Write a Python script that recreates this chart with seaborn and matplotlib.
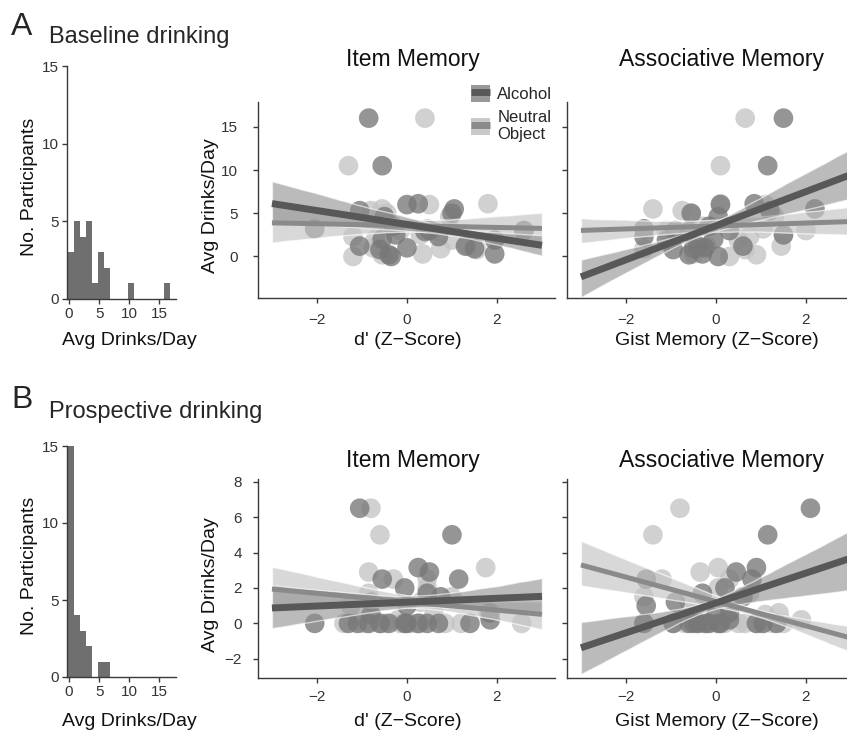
import numpy as np
import pandas as pd
import matplotlib
matplotlib.use("Agg")
import matplotlib.pyplot as plt
import seaborn as sns
from matplotlib.patches import Patch
from matplotlib.lines import Line2D

# ---------------- data ----------------
conditions = ["Alcohol", "Neutral Object"]
legend_labels = ["Alcohol", "Neutral\nObject"]
panel_titles = ["Item Memory", "Associative Memory"]
row_titles = ["Baseline drinking", "Prospective drinking"]
row_letters = ["A", "B"]
x_labels = ["d' (Z\u2212Score)", "Gist Memory (Z\u2212Score)"]

baseline_drinks = [16.0, 10.5, 6.1, 6.0, 5.5, 5.3, 5.0, 4.6, 3.5, 3.2, 3.0, 3.0, 2.9,
                   2.5, 2.3, 2.0, 1.9, 1.2, 1.2, 1.0, 0.9, 0.8, 0.3, 0.2, 0.0]
baseline_item_alcohol = [-0.85, -0.55, 0.25, 0.0, 1.05, -1.05, 1.0, -0.5, -0.3, -2.05,
                         2.6, 0.5, 0.4, -0.25, 0.7, -0.55, 1.95, -1.05, 1.3, 0.0,
                         1.5, -0.6, 1.95, -0.4, -0.35]
baseline_item_neutral = [0.4, -1.3, 1.8, 0.5, -0.55, -0.8, -0.45, 0.95, -0.4, 0.45,
                         2.6, -0.15, 0.6, 0.3, -1.2, -0.7, 1.0, -0.65, 1.35, -0.75,
                         0.75, 1.55, 0.35, -0.55, -1.2]
baseline_assoc_alcohol = [1.5, 1.15, 0.85, 0.1, 2.2, 1.2, -0.55, 0.05, -0.15, -1.6,
                          -0.9, 0.3, -0.6, 1.5, -1.6, -0.05, -1.1, 0.6, -0.4, -0.25,
                          -0.5, -0.95, -0.3, -0.6, 0.05]
baseline_assoc_neutral = [0.65, 0.1, 0.1, 1.1, -1.4, -0.75, -0.55, 1.3, -0.3, 1.05,
                          2.0, -1.1, -0.6, 1.5, 0.75, -0.95, 0.5, -0.2, 1.45, -0.35,
                          -1.6, 0.65, -0.5, 0.9, 0.3]

prospective_drinks = [6.5, 5.0, 3.15, 2.9, 2.5, 2.5, 2.0, 1.7, 1.5, 1.2, 1.0, 0.6, 0.5,
                      0.2, 0.0, 0.0, 0.0, 0.0, 0.0, 0.0, 0.0, 0.0, 0.0, 0.0, 0.0, 0.0]
prospective_item_alcohol = [-1.05, 1.0, 0.25, 0.5, -0.55, 1.15, -0.05, 0.45, 0.75, -0.8,
                            0.0, 1.85, -0.8, 1.85, -2.05, -1.3, -1.1, -0.85, -0.6, -0.4,
                            -0.05, 0.25, 0.45, 0.7, 0.0, 1.4]
prospective_item_neutral = [-0.8, -0.6, 1.75, -0.85, -0.3, 0.45, 0.45, -0.85, 1.0, 0.3,
                            -1.25, 1.8, 0.6, -0.2, 2.55, 0.25, -0.15, -1.0, -0.5, 0.1,
                            0.85, 1.2, -1.4, 0.3, -0.6, -0.9]
prospective_assoc_alcohol = [2.1, 1.15, 0.9, 0.45, -1.55, 0.8, 0.2, -0.3, 0.6, -0.9,
                             -1.55, 0.3, 0.0, 0.3, 0.05, -0.25, -0.95, 0.9, 1.35, -1.6,
                             -0.5, -0.4, 1.05, -0.15, -0.6, 0.1]
prospective_assoc_neutral = [-0.8, -1.4, 0.05, -0.35, -1.2, 0.3, 0.05, 0.75, -1.6, -0.6,
                             -0.45, 1.4, 1.1, 1.9, 0.65, 1.0, 1.5, -0.4, -0.7, 0.2,
                             1.25, -0.95, -1.6, 0.9, -0.2, 0.5]

hist_ticks = [0, 5, 10, 15]
z_ticks = [-2, 0, 2]
baseline_yticks = [0, 5, 10, 15]
prospective_yticks = [-2, 0, 2, 4, 6, 8]

# ---------------- style ----------------
sns.set_style("ticks")
plt.rcParams["font.family"] = ["Liberation Sans", "DejaVu Sans"]
plt.rcParams["axes.edgecolor"] = "#3a3a3a"
plt.rcParams["axes.linewidth"] = 1.0
plt.rcParams["xtick.color"] = "#3a3a3a"
plt.rcParams["ytick.color"] = "#3a3a3a"
plt.rcParams["xtick.labelcolor"] = "#333333"
plt.rcParams["ytick.labelcolor"] = "#333333"

point_colors = {"Alcohol": "#787878", "Neutral Object": "#c4c4c4"}
line_colors = {"Alcohol": "#585858", "Neutral Object": "#8a8a8a"}
line_widths = {"Alcohol": 5.0, "Neutral Object": 3.6}
band_colors = {"Alcohol": "#8e8e8e", "Neutral Object": "#c4c4c4"}
band_alpha = {"Alcohol": 0.6, "Neutral Object": 0.65}
hist_color = "#6f6f6f"

W, H = 847, 730
fig = plt.figure(figsize=(W / 100, H / 100), dpi=100)


def px_axes(left, top, right, bottom):
    return fig.add_axes([left / W, 1 - bottom / H, (right - left) / W, (bottom - top) / H])


def style_axes(ax, ticksize, pad_x, pad_y):
    sns.despine(ax=ax)
    ax.tick_params(axis="both", length=3.5, width=1, labelsize=ticksize)
    ax.tick_params(axis="x", pad=pad_x)
    ax.tick_params(axis="y", pad=pad_y)


def hist_panel(ax, drinks, xlabel_top):
    sns.histplot(x=np.asarray(drinks), binwidth=1, binrange=(-0.25, 17.75),
                 color=hist_color, alpha=1, linewidth=0, ax=ax)
    ax.set_xlim(-0.35, 17.8)
    ax.set_ylim(0, 15)
    ax.set_xticks(hist_ticks)
    ax.set_yticks(hist_ticks)
    style_axes(ax, 11, 2.5, 2.5)
    ax.set_xlabel("Avg Drinks/Day", fontsize=14, color="#111111")
    ax.set_ylabel("No. Participants", fontsize=14, color="#111111")
    ax.yaxis.set_label_coords(-0.27, 0.48)
    ax.xaxis.set_label_coords(0.57, xlabel_top)


def reg_panel(ax, x_alc, x_neu, drinks, ylim, yticks, pad_x, pad_y):
    n = len(drinks)
    df = pd.DataFrame({
        "z": list(x_neu) + list(x_alc),
        "drinks": list(drinks) + list(drinks),
        "cond": [conditions[1]] * n + [conditions[0]] * n,
    })
    sns.scatterplot(data=df, x="z", y="drinks", hue="cond", palette=point_colors,
                    s=200, alpha=0.78, edgecolor="none", legend=False, ax=ax)
    ax.set_xlim(-3, 3)
    for cond, xs in [(conditions[1], x_neu), (conditions[0], x_alc)]:
        sns.regplot(x=np.asarray(xs, dtype=float), y=np.asarray(drinks, dtype=float),
                    scatter=False, truncate=False, ci=68, n_boot=1000, seed=0,
                    color=line_colors[cond],
                    line_kws={"lw": line_widths[cond], "solid_capstyle": "butt"}, ax=ax)
        band = ax.collections[-1]
        band.set_facecolor(band_colors[cond])
        band.set_alpha(band_alpha[cond])
    ax.set_xlim(-3.31, 3.29)
    ax.set_ylim(*ylim)
    ax.set_xticks(z_ticks)
    ax.set_yticks(yticks)
    style_axes(ax, 11, pad_x, pad_y)
    ax.set_xlabel("")
    ax.set_ylabel("")


# ---------------- row A ----------------
ax_hA = px_axes(67, 66, 176, 299)
hist_panel(ax_hA, baseline_drinks, -0.142)

ax_iA = px_axes(258, 101.7, 555, 298)
reg_panel(ax_iA, baseline_item_alcohol, baseline_item_neutral, baseline_drinks,
          (-4.8, 17.9), baseline_yticks, 7, 11)
ax_aA = px_axes(567, 101.7, 864, 298)
reg_panel(ax_aA, baseline_assoc_alcohol, baseline_assoc_neutral, baseline_drinks,
          (-4.8, 17.9), baseline_yticks, 7, 11)
ax_aA.set_yticklabels([])

# ---------------- row B ----------------
ax_hB = px_axes(67, 446, 176, 677)
hist_panel(ax_hB, prospective_drinks, -0.156)

ax_iB = px_axes(258, 479, 555, 678.3)
reg_panel(ax_iB, prospective_item_alcohol, prospective_item_neutral, prospective_drinks,
          (-3.1, 8.15), prospective_yticks, 5, 8)
ax_aB = px_axes(567, 479, 864, 678.3)
reg_panel(ax_aB, prospective_assoc_alcohol, prospective_assoc_neutral, prospective_drinks,
          (-3.1, 8.15), prospective_yticks, 5, 8)
ax_aB.set_yticklabels([])

for ax, xl in [(ax_iA, x_labels[0]), (ax_aA, x_labels[1]),
               (ax_iB, x_labels[0]), (ax_aB, x_labels[1])]:
    ax.set_xlabel(xl, fontsize=14, color="#111111")
    ax.xaxis.set_label_coords(0.505, -0.172)

for ax in (ax_iA, ax_iB):
    ax.set_ylabel("Avg Drinks/Day", fontsize=14, color="#111111")
    ax.yaxis.set_label_coords(-0.13, 0.47)

for ax, t, pad in [(ax_iA, panel_titles[0], 26), (ax_aA, panel_titles[1], 26),
                   (ax_iB, panel_titles[0], 8.5), (ax_aB, panel_titles[1], 8.5)]:
    ax.set_title(t, fontsize=16.5, color="#111111", pad=pad, x=0.52)

# row letters and titles
fig.text(11 / W, 1 - 35 / H, row_letters[0], fontsize=23, va="baseline", ha="left")
fig.text(49 / W, 1 - 43 / H, row_titles[0], fontsize=17, va="baseline", ha="left")
fig.text(11 / W, 1 - 408 / H, row_letters[1], fontsize=23, va="baseline", ha="left")
fig.text(49 / W, 1 - 418 / H, row_titles[1], fontsize=17, va="baseline", ha="left")

# legend
handles = []
for cond in conditions:
    handles.append((Patch(facecolor=band_colors[cond], alpha=0.9, edgecolor="none"),
                    Line2D([], [], color=line_colors[cond], lw=5, solid_capstyle="butt")))
fig.legend(handles, legend_labels, loc="upper left",
           bbox_to_anchor=(464 / W, 1 - 78 / H), frameon=False, fontsize=12,
           handlelength=1.15, handleheight=1.25, handletextpad=0.45, labelspacing=0.45,
           borderaxespad=0)

fig.savefig("out.png", dpi=100)
